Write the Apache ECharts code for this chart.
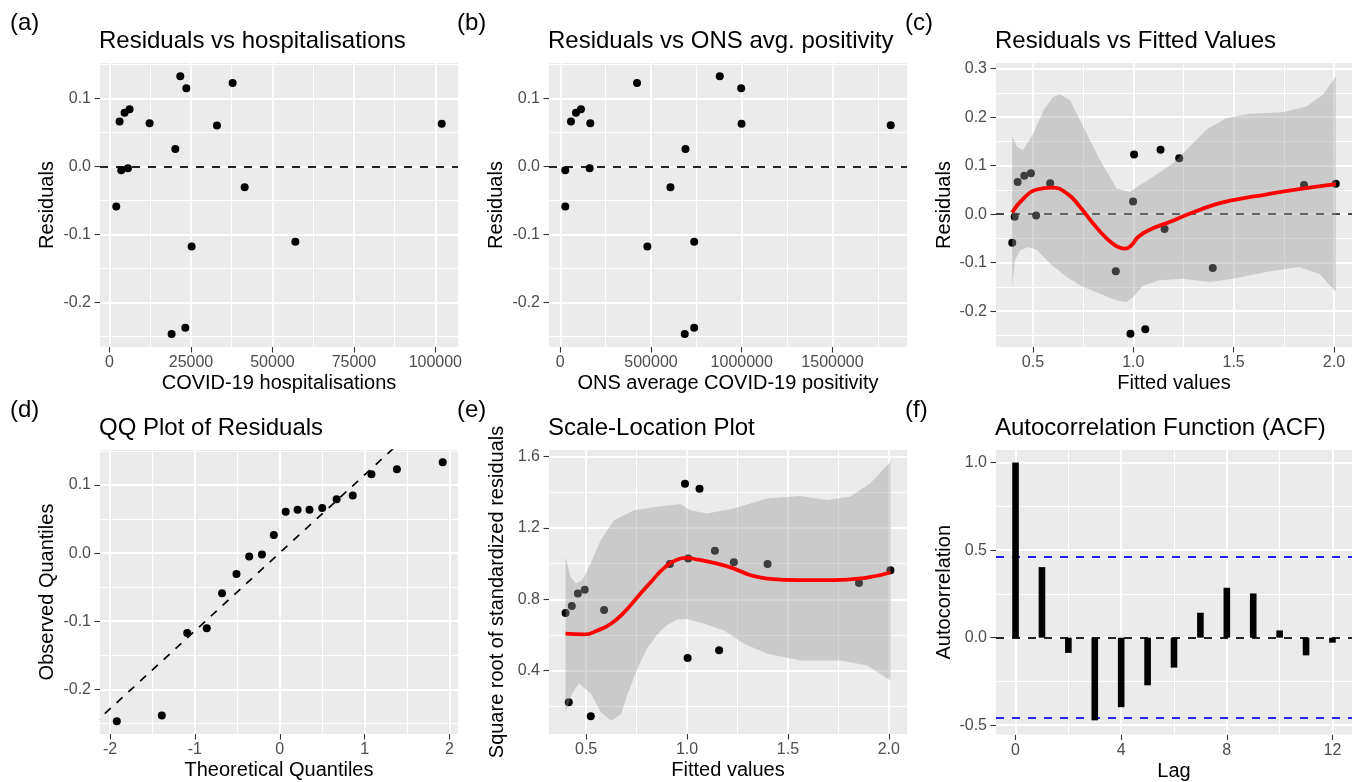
<!DOCTYPE html>
<html><head><meta charset="utf-8">
<script src="https://cdn.jsdelivr.net/npm/echarts@6/dist/echarts.min.js"></script>
<style>html,body{margin:0;padding:0;background:#fff}#c{width:1352px;height:782px}</style>
</head><body><div id="c"></div>
<script>
// ---------- DATA ----------
// (a) Residuals vs hospitalisations
const hospX = [2057, 3071, 3593, 4607, 6142, 5630, 12285, 20178, 21714, 23556, 19042, 23249, 25184, 32960, 37780, 41465, 57031, 101965];
const hospY = [-0.0588, 0.0662, -0.0053, 0.0794, 0.0843, -0.0024, 0.0638, 0.026, 0.133, 0.1152, -0.2465, -0.2372, -0.1176, 0.0603, 0.1231, -0.0303, -0.1107, 0.063];
// (b) Residuals vs ONS avg. positivity
const onsX = [27600, 27600, 59000, 86600, 114000, 165500, 161900, 423000, 480000, 607000, 690000, 686000, 738000, 738000, 879000, 997000, 999000, 1821000];
const onsY = [-0.0053, -0.0588, 0.0662, 0.0794, 0.0843, 0.0638, -0.0024, 0.1231, -0.1176, -0.0303, 0.026, -0.2465, -0.2372, -0.1107, 0.133, 0.1152, 0.0632, 0.0608];
// (c) Residuals vs fitted
const fitX = [0.397, 0.409, 0.424, 0.457, 0.490, 0.516, 0.586, 0.913, 0.986, 0.999, 1.004, 1.060, 1.136, 1.156, 1.229, 1.396, 1.851, 2.009];
const fitResid = [-0.0588, -0.005, 0.0662, 0.0794, 0.0843, -0.0024, 0.0638, -0.1176, -0.2465, 0.026, 0.1231, -0.2372, 0.133, -0.0303, 0.1152, -0.1107, 0.0603, 0.063];
const smoothCX = [0.396, 0.453, 0.52, 0.594, 0.669, 0.735, 0.80, 0.867, 0.917, 0.958, 0.991, 1.024, 1.082, 1.181, 1.28, 1.413, 1.497, 1.66, 1.826, 2.009];
const smoothCY = [0.0035, 0.0324, 0.051, 0.055, 0.043, 0.015, -0.019, -0.050, -0.066, -0.071, -0.064, -0.047, -0.032, -0.016, 0.001, 0.0207, 0.029, 0.0406, 0.0517, 0.062];
const bandCUpX = [0.397, 0.42, 0.45, 0.503, 0.553, 0.602, 0.635, 0.685, 0.751, 0.834, 0.917, 0.983, 1.033, 1.099, 1.199, 1.281, 1.364, 1.463, 1.579, 1.745, 1.861, 1.944, 2.009];
const bandCUpY = [0.16, 0.139, 0.132, 0.167, 0.215, 0.242, 0.247, 0.235, 0.18, 0.1116, 0.053, 0.046, 0.06, 0.077, 0.105, 0.139, 0.174, 0.198, 0.207, 0.21, 0.222, 0.246, 0.284];
const bandCLoX = [0.397, 0.41, 0.437, 0.478, 0.52, 0.586, 0.668, 0.751, 0.834, 0.917, 0.966, 0.999, 1.049, 1.131, 1.247, 1.38, 1.497, 1.66, 1.826, 1.927, 2.009];
const bandCLoY = [-0.150, -0.095, -0.0744, -0.0675, -0.074, -0.102, -0.1295, -0.150, -0.164, -0.178, -0.181, -0.171, -0.147, -0.136, -0.133, -0.14, -0.133, -0.119, -0.109, -0.123, -0.160];
// (d) QQ plot
const qqTheo = [-1.92, -1.39, -1.09, -0.86, -0.68, -0.51, -0.36, -0.21, -0.07, 0.07, 0.21, 0.35, 0.50, 0.67, 0.86, 1.08, 1.38, 1.92];
const qqObs = [-0.247, -0.2385, -0.1174, -0.1105, -0.0589, -0.0305, -0.0049, -0.002, 0.0265, 0.0608, 0.0638, 0.0638, 0.0663, 0.0792, 0.0845, 0.1159, 0.1233, 0.1336];
const qqLineX = [-2.2, 1.45];
const qqLineY = [-0.2517, 0.1666];
// (e) Scale-Location
const slX = [0.398, 0.414, 0.429, 0.459, 0.493, 0.523, 0.589, 0.915, 0.990, 1.003, 1.006, 1.062, 1.138, 1.159, 1.232, 1.399, 1.852, 2.008];
const slY = [0.7226, 0.222, 0.762, 0.832, 0.854, 0.143, 0.740, 0.998, 1.448, 0.470, 1.029, 1.420, 1.073, 0.514, 1.008, 0.998, 0.891, 0.963];
const smoothEX = [0.398, 0.491, 0.557, 0.623, 0.689, 0.755, 0.821, 0.887, 0.953, 0.994, 1.052, 1.150, 1.232, 1.315, 1.397, 1.562, 1.727, 1.892, 2.008];
const smoothEY = [0.607, 0.603, 0.625, 0.663, 0.728, 0.813, 0.897, 0.976, 1.023, 1.032, 1.023, 1.0, 0.972, 0.935, 0.916, 0.907, 0.907, 0.922, 0.950];
const bandEUpX = [0.398, 0.423, 0.448, 0.481, 0.522, 0.572, 0.638, 0.737, 0.852, 0.967, 1.016, 1.099, 1.231, 1.396, 1.56, 1.693, 1.808, 1.907, 2.008];
const bandEUpY = [1.037, 0.925, 0.888, 0.907, 1.0, 1.131, 1.244, 1.30, 1.319, 1.334, 1.30, 1.282, 1.31, 1.366, 1.379, 1.357, 1.375, 1.45, 1.572];
const bandELoX = [0.398, 0.43, 0.465, 0.525, 0.574, 0.624, 0.673, 0.70, 0.75, 0.80, 0.85, 0.90, 0.95, 1.0, 1.085, 1.184, 1.283, 1.399, 1.563, 1.761, 1.893, 2.008];
const bandELoY = [0.164, 0.27, 0.327, 0.269, 0.165, 0.119, 0.156, 0.25, 0.40, 0.52, 0.60, 0.655, 0.685, 0.69, 0.663, 0.625, 0.55, 0.494, 0.456, 0.456, 0.428, 0.344];
// (f) ACF
const lags = [0, 1, 2, 3, 4, 5, 6, 7, 8, 9, 10, 11, 12];
const acf = [1.0, 0.403, -0.087, -0.472, -0.397, -0.272, -0.171, 0.1425, 0.285, 0.2526, 0.0416, -0.101, -0.0285];
const acfCI = 0.462;

// ticks / gridlines
const ticksResY = [-0.2, -0.1, 0.0, 0.1];
const minorResY = [-0.25, -0.15, -0.05, 0.05, 0.15];
const ticksHospX = [0, 25000, 50000, 75000, 100000];
const minorHospX = [12500, 37500, 62500, 87500];
const ticksOnsX = [0, 500000, 1000000, 1500000];
const minorOnsX = [250000, 750000, 1250000, 1750000];
const ticksFitX = [0.5, 1.0, 1.5, 2.0];
const minorFitX = [0.75, 1.25, 1.75];
const ticksCY = [-0.2, -0.1, 0.0, 0.1, 0.2, 0.3];
const minorCY = [-0.25, -0.15, -0.05, 0.05, 0.15, 0.25];
const ticksQQX = [-2, -1, 0, 1, 2];
const minorQQX = [-1.5, -0.5, 0.5, 1.5];
const ticksEY = [0.4, 0.8, 1.2, 1.6];
const minorEY = [0.2, 0.6, 1.0, 1.4];
const ticksLagX = [0, 4, 8, 12];
const minorLagX = [2, 6, 10];
const ticksAcfY = [-0.5, 0.0, 0.5, 1.0];
const minorAcfY = [-0.25, 0.25, 0.75];

// ---------- CHART ----------
const FF = 'Liberation Sans, Arial, Helvetica, sans-serif';
const zip = (a, b) => a.map((v, i) => [v, b[i]]);
const f1 = v => Number(v).toFixed(1);
const f0 = v => String(v);

const grids = [
  {left: 100, top: 63, width: 358, height: 284},
  {left: 549, top: 63, width: 358, height: 284},
  {left: 996, top: 63, width: 357, height: 284},
  {left: 100, top: 450, width: 358, height: 284},
  {left: 549, top: 450, width: 358, height: 284},
  {left: 996, top: 450, width: 357, height: 285}
].map(g => Object.assign({show: true, backgroundColor: '#EBEBEB', borderWidth: 0, containLabel: false}, g));

function xAx(gi, min, max, ticks, fmt, name) {
  return {type: 'value', gridIndex: gi, min: min, max: max, name: name,
    nameLocation: 'middle', nameGap: 26.5,
    nameTextStyle: {fontSize: 20, color: '#000', fontFamily: FF},
    axisLine: {show: false, onZero: false},
    axisTick: {show: true, length: 5.5, lineStyle: {color: '#333', width: 1.1}, customValues: ticks},
    axisLabel: {customValues: ticks, formatter: fmt, color: '#4D4D4D', fontSize: 16, margin: 8, fontFamily: FF},
    splitLine: {show: false}};
}
function yAx(gi, min, max, ticks, fmt, name, gap) {
  return {type: 'value', gridIndex: gi, min: min, max: max, name: name,
    nameLocation: 'middle', nameGap: gap,
    nameTextStyle: {fontSize: 20, color: '#000', fontFamily: FF},
    axisLine: {show: false, onZero: false},
    axisTick: {show: true, length: 5.5, lineStyle: {color: '#333', width: 1.1}, customValues: ticks},
    axisLabel: {customValues: ticks, formatter: fmt, color: '#4D4D4D', fontSize: 16, margin: 9, fontFamily: FF},
    splitLine: {show: false}};
}

const xAxes = [
  xAx(0, -2938, 106960, ticksHospX, f0, 'COVID-19 hospitalisations'),
  xAx(1, -62070, 1910670, ticksOnsX, f0, 'ONS average COVID-19 positivity'),
  xAx(2, 0.316, 2.09, ticksFitX, f1, 'Fitted values'),
  xAx(3, -2.118, 2.10, ticksQQX, f0, 'Theoretical Quantiles'),
  xAx(4, 0.316, 2.09, ticksFitX, f1, 'Fitted values'),
  xAx(5, -0.74, 12.74, ticksLagX, f0, 'Lag')
];
const yAxes = [
  yAx(0, -0.2657, 0.1525, ticksResY, f1, 'Residuals', 43),
  yAx(1, -0.2657, 0.1525, ticksResY, f1, 'Residuals', 42.5),
  yAx(2, -0.2738, 0.3118, ticksCY, f1, 'Residuals', 42),
  yAx(3, -0.2657, 0.1515, ticksResY, f1, 'Observed Quantiles', 43),
  yAx(4, 0.044, 1.6377, ticksEY, f1, 'Square root of standardized residuals', 42),
  yAx(5, -0.553, 1.072, ticksAcfY, f1, 'Autocorrelation', 42)
];

function gridLineSeries(i, majX, minX, majY, minY) {
  const maj = {color: '#FFFFFF', width: 1.9, type: 'solid'};
  const mn = {color: '#FFFFFF', width: 1, type: 'solid'};
  const d = [];
  minX.forEach(v => d.push({xAxis: v, lineStyle: mn}));
  minY.forEach(v => d.push({yAxis: v, lineStyle: mn}));
  majX.forEach(v => d.push({xAxis: v, lineStyle: maj}));
  majY.forEach(v => d.push({yAxis: v, lineStyle: maj}));
  return {type: 'line', xAxisIndex: i, yAxisIndex: i, data: [], silent: true,
    markLine: {z: 1, silent: true, symbol: ['none', 'none'], label: {show: false}, animation: false,
      emphasis: {disabled: true}, data: d}};
}
function hlineSeries(i, vals, color) {
  return {type: 'line', xAxisIndex: i, yAxisIndex: i, data: [], silent: true,
    markLine: {z: 2, silent: true, symbol: ['none', 'none'], label: {show: false}, animation: false,
      emphasis: {disabled: true},
      lineStyle: {color: color, width: 1.7, type: [8, 8]},
      data: vals.map(v => ({yAxis: v}))}};
}
function pointSeries(i, xs, ys) {
  return {type: 'scatter', xAxisIndex: i, yAxisIndex: i, z: 3, data: zip(xs, ys),
    symbol: 'circle', symbolSize: 8, itemStyle: {color: '#000', opacity: 1}, silent: true};
}
function ribbonSeries(i, upX, upY, loX, loY) {
  return {type: 'custom', xAxisIndex: i, yAxisIndex: i, z: 4, silent: true,
    data: [[upX[0], upY[0]]],
    renderItem: function (params, api) {
      const pts = [];
      for (let k = 0; k < upX.length; k++) pts.push(api.coord([upX[k], upY[k]]));
      for (let k = loX.length - 1; k >= 0; k--) pts.push(api.coord([loX[k], loY[k]]));
      return {type: 'polygon', shape: {points: pts, smooth: 0}, style: {fill: 'rgba(153,153,153,0.4)'}};
    }};
}
function smoothSeries(i, xs, ys) {
  return {type: 'line', xAxisIndex: i, yAxisIndex: i, z: 5, data: zip(xs, ys), smooth: 0.5,
    showSymbol: false, silent: true, lineStyle: {color: '#FF0000', width: 3.8}};
}

const series = [
  gridLineSeries(0, ticksHospX, minorHospX, ticksResY, minorResY),
  hlineSeries(0, [0], '#000'),
  pointSeries(0, hospX, hospY),

  gridLineSeries(1, ticksOnsX, minorOnsX, ticksResY, minorResY),
  hlineSeries(1, [0], '#000'),
  pointSeries(1, onsX, onsY),

  gridLineSeries(2, ticksFitX, minorFitX, ticksCY, minorCY),
  hlineSeries(2, [0], '#222'),
  pointSeries(2, fitX, fitResid),
  ribbonSeries(2, bandCUpX, bandCUpY, bandCLoX, bandCLoY),
  smoothSeries(2, smoothCX, smoothCY),

  gridLineSeries(3, ticksQQX, minorQQX, ticksResY, minorResY),
  {type: 'line', xAxisIndex: 3, yAxisIndex: 3, z: 2, data: zip(qqLineX, qqLineY), showSymbol: false,
    silent: true, clip: true, lineStyle: {color: '#000', width: 1.7, type: [8, 8]}},
  pointSeries(3, qqTheo, qqObs),

  gridLineSeries(4, ticksFitX, minorFitX, ticksEY, minorEY),
  pointSeries(4, slX, slY),
  ribbonSeries(4, bandEUpX, bandEUpY, bandELoX, bandELoY),
  smoothSeries(4, smoothEX, smoothEY),

  gridLineSeries(5, ticksLagX, minorLagX, ticksAcfY, minorAcfY),
  {type: 'bar', xAxisIndex: 5, yAxisIndex: 5, z: 3, data: zip(lags, acf), barWidth: 6.6,
    itemStyle: {color: '#000'}, silent: true},
  hlineSeries(5, [0], '#000'),
  hlineSeries(5, [acfCI, -acfCI], '#0000FF')
];

const ts = {fontSize: 24, fontWeight: 'normal', color: '#000', fontFamily: FF};
const title = [
  ['(a)', 10, 11], ['Residuals vs hospitalisations', 99, 29],
  ['(b)', 457, 11], ['Residuals vs ONS avg. positivity', 548, 29],
  ['(c)', 905, 11], ['Residuals vs Fitted Values', 995, 29],
  ['(d)', 10, 398], ['QQ Plot of Residuals', 99, 416],
  ['(e)', 457, 398], ['Scale-Location Plot', 548, 416],
  ['(f)', 905, 398], ['Autocorrelation Function (ACF)', 995, 416]
].map(t => ({text: t[0], left: t[1], top: t[2], padding: 0, textStyle: ts}));

const chart = echarts.init(document.getElementById('c'), null, {renderer: 'canvas'});
chart.setOption({
  animation: false,
  backgroundColor: '#FFFFFF',
  textStyle: {fontFamily: FF},
  title: title,
  grid: grids,
  xAxis: xAxes,
  yAxis: yAxes,
  series: series
});
</script></body></html>
